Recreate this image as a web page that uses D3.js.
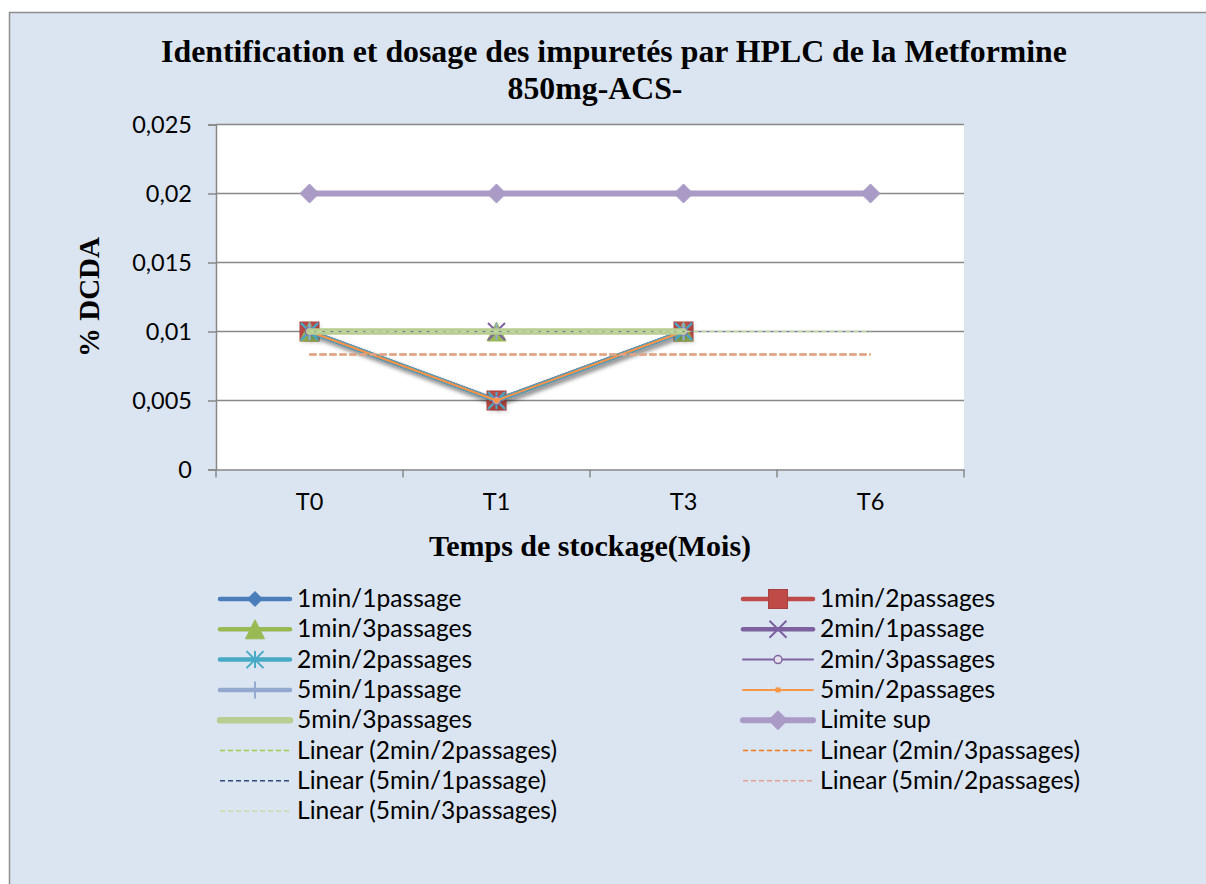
<!DOCTYPE html>
<html>
<head>
<meta charset="utf-8">
<script src="https://cdn.jsdelivr.net/npm/d3@7"></script>
<style>
  html, body { margin: 0; padding: 0; background: #ffffff; }
  svg { display: block; }
</style>
</head>
<body>
<svg id="chart" width="1206" height="884"></svg>
<script>
// Storage times (x categories)
const categories = ["T0", "T1", "T3", "T6"];
// Y axis ticks (% DCDA)
const yTicks = [0, 0.005, 0.01, 0.015, 0.02, 0.025];

// Series values (null = not measured)
const s1min1 = [0.01, 0.005, 0.01, null];
const s1min2 = [0.01, 0.005, 0.01, null];
const s1min3 = [0.01, 0.01, 0.01, null];
const s2min1 = [0.01, 0.01, 0.01, null];
const s2min2 = [0.01, 0.005, 0.01, null];
const s2min3 = [0.01, 0.005, 0.01, null];
const s5min1 = [0.01, 0.01, 0.01, null];
const s5min2 = [0.01, 0.005, 0.01, null];
const s5min3 = [0.01, 0.01, 0.01, null];
const limiteSup = [0.02, 0.02, 0.02, 0.02];

// Linear trend lines
const trend2min2 = [0.00833, 0.00833, 0.00833, 0.00833];
const trend2min3 = [0.00833, 0.00833, 0.00833, 0.00833];
const trend5min1 = [0.01, 0.01, 0.01, 0.01];
const trend5min2 = [0.00833, 0.00833, 0.00833, 0.00833];
const trend5min3 = [0.01, 0.01, 0.01, 0.01];

const series = [
  { name: "1min/1passage",  values: s1min1, color: "#4A7EBB", width: 4.5, marker: "diamond", msize: 15, mfill: "#4A7EBB", shadow: true },
  { name: "1min/2passages", values: s1min2, color: "#BE4B48", width: 4.5, marker: "square",  msize: 19, mfill: "#BE4B48", shadow: false },
  { name: "1min/3passages", values: s1min3, color: "#98B954", width: 4.5, marker: "triangle",msize: 19, mfill: "#98B954", shadow: false },
  { name: "2min/1passage",  values: s2min1, color: "#7D60A0", width: 4.5, marker: "x",       msize: 17, mfill: "none",    shadow: false },
  { name: "2min/2passages", values: s2min2, color: "#46AAC5", width: 4.5, marker: "star",    msize: 17, mfill: "none",    shadow: true },
  { name: "2min/3passages", values: s2min3, color: "#8064A2", width: 2,   marker: "circle",  msize: 8,  mfill: "#E6E0EC", shadow: false },
  { name: "5min/1passage",  values: s5min1, color: "#93A9D0", width: 4.5, marker: "plus",    msize: 17, mfill: "none",    shadow: false },
  { name: "5min/2passages", values: s5min2, color: "#F79646", width: 2,   marker: "dot",     msize: 5,  mfill: "#F79646", shadow: false },
  { name: "5min/3passages", values: s5min3, color: "#B7CD91", width: 6.5, marker: "none",    msize: 0,  mfill: "none",    shadow: false },
  { name: "Limite sup",     values: limiteSup, color: "#A99BC6", width: 6, marker: "diamond", msize: 19, mfill: "#A99BC6", shadow: false }
];

const trends = [
  { name: "Linear (2min/2passages)", values: trend2min2, color: "#9BCB4A", width: 1.6, dash: "7,3" },
  { name: "Linear (2min/3passages)", values: trend2min3, color: "#F07A1E", width: 1.6, dash: "7,3" },
  { name: "Linear (5min/1passage)",  values: trend5min1, color: "#6A7A92", width: 1.1, dash: "6,3" },
  { name: "Linear (5min/2passages)", values: trend5min2, color: "#E2A28E", width: 2.6, dash: "7,3" },
  { name: "Linear (5min/3passages)", values: trend5min3, color: "#C4D9A4", width: 1.6, dash: "5,3" }
];

const svg = d3.select("#chart");
const LABEL_FONT = "Lato, 'Open Sans', sans-serif";
const TITLE_FONT = "'Liberation Serif', 'Times New Roman', serif";

// Chart area
svg.append("rect")
  .attr("x", 9.5).attr("y", 12.5).attr("width", 1215).attr("height", 900)
  .attr("fill", "#DBE5F1").attr("stroke", "#8E8E8E").attr("stroke-width", 1.5);

const defs = svg.append("defs");
const f = defs.append("filter").attr("id", "shadow")
  .attr("x", "-10%").attr("y", "-10%").attr("width", "130%").attr("height", "150%");
f.append("feDropShadow").attr("dx", 2).attr("dy", 3).attr("stdDeviation", 2)
  .attr("flood-color", "#000").attr("flood-opacity", 0.3);

const plot = { left: 216, right: 964, top: 124.5, bottom: 469.5 };

const x = d3.scaleBand().domain(categories).range([plot.left, plot.right]).padding(0);
const cx = c => x(c) + x.bandwidth() / 2;
const y = d3.scaleLinear().domain([0, 0.025]).range([plot.bottom, plot.top]);

// Plot area
svg.append("rect")
  .attr("x", plot.left).attr("y", plot.top)
  .attr("width", plot.right - plot.left).attr("height", plot.bottom - plot.top)
  .attr("fill", "#ffffff");

// Horizontal gridlines
svg.append("g").selectAll("line").data(yTicks.filter(d => d > 0)).join("line")
  .attr("x1", plot.left).attr("x2", plot.right)
  .attr("y1", d => y(d)).attr("y2", d => y(d))
  .attr("stroke", "#888888").attr("stroke-width", 1.5);

// Y axis
const fr = d3.formatLocale({ decimal: ",", thousands: " ", grouping: [3], currency: ["", ""] });
const yAxis = d3.axisLeft(y).tickValues(yTicks).tickSize(8).tickPadding(16)
  .tickFormat(d => d === 0 ? "0" : fr.format("")(d));
const gy = svg.append("g").attr("transform", `translate(${plot.left},0)`).call(yAxis);
gy.select(".domain").attr("stroke", "#888888").attr("stroke-width", 1.5);
gy.selectAll(".tick line").attr("stroke", "#888888").attr("stroke-width", 1.5);
gy.selectAll(".tick text").attr("font-family", LABEL_FONT).attr("font-size", 23.5).attr("fill", "#000");

// X axis
const xAxis = d3.axisBottom(x).tickSize(0).tickPadding(24);
const gx = svg.append("g").attr("transform", `translate(0,${plot.bottom})`).call(xAxis);
gx.select(".domain").attr("stroke", "#888888").attr("stroke-width", 1.5);
gx.selectAll(".tick text").attr("font-family", LABEL_FONT).attr("font-size", 23.5).attr("fill", "#000");
// category boundary ticks
const bounds = categories.map(c => x(c)).concat([plot.right]);
gx.append("g").selectAll("line").data(bounds).join("line")
  .attr("x1", d => d).attr("x2", d => d).attr("y1", 0).attr("y2", 8)
  .attr("stroke", "#888888").attr("stroke-width", 1.5);

// Marker drawing
function drawMarker(g, type, px, py, s, color, fill) {
  const h = s / 2;
  if (type === "diamond") {
    g.append("path").attr("d", `M${px},${py - h}L${px + h},${py}L${px},${py + h}L${px - h},${py}Z`)
      .attr("fill", fill).attr("stroke", color).attr("stroke-width", 1);
  } else if (type === "square") {
    g.append("rect").attr("x", px - h).attr("y", py - h).attr("width", s).attr("height", s)
      .attr("fill", fill).attr("stroke", "#A8403D").attr("stroke-width", 1);
  } else if (type === "triangle") {
    g.append("path").attr("d", `M${px},${py - h}L${px + h},${py + h}L${px - h},${py + h}Z`)
      .attr("fill", fill).attr("stroke", color).attr("stroke-width", 1);
  } else if (type === "x") {
    g.append("path").attr("d", `M${px - h},${py - h}L${px + h},${py + h}M${px + h},${py - h}L${px - h},${py + h}`)
      .attr("stroke", color).attr("stroke-width", 2).attr("fill", "none");
  } else if (type === "star") {
    g.append("path").attr("d",
      `M${px - h},${py - h}L${px + h},${py + h}M${px + h},${py - h}L${px - h},${py + h}M${px},${py - h}L${px},${py + h}`)
      .attr("stroke", color).attr("stroke-width", 2).attr("fill", "none");
  } else if (type === "plus") {
    g.append("path").attr("d", `M${px},${py - h}L${px},${py + h}`)
      .attr("stroke", color).attr("stroke-width", 2).attr("fill", "none");
  } else if (type === "circle") {
    g.append("circle").attr("cx", px).attr("cy", py).attr("r", h)
      .attr("fill", fill).attr("stroke", color).attr("stroke-width", 1.5);
  } else if (type === "dot") {
    g.append("rect").attr("x", px - h).attr("y", py - h).attr("width", s).attr("height", s)
      .attr("fill", fill);
  }
}

const line = d3.line()
  .defined(d => d.v !== null)
  .x(d => cx(d.c)).y(d => y(d.v));

const gSeries = svg.append("g");
series.forEach(s => {
  const pts = categories.map((c, i) => ({ c, v: s.values[i] }));
  const g = gSeries.append("g");
  if (s.shadow) g.attr("filter", "url(#shadow)");
  g.append("path").datum(pts).attr("d", line)
    .attr("fill", "none").attr("stroke", s.color).attr("stroke-width", s.width)
    .attr("stroke-linejoin", "round").attr("stroke-linecap", "round");
  pts.filter(d => d.v !== null).forEach(d =>
    drawMarker(g, s.marker, cx(d.c), y(d.v), s.msize, s.color, s.mfill));
});

// Trend lines
const gTrend = svg.append("g");
trends.forEach(t => {
  const pts = categories.map((c, i) => ({ c, v: t.values[i] }));
  gTrend.append("path").datum(pts).attr("d", line)
    .attr("fill", "none").attr("stroke", t.color).attr("stroke-width", t.width)
    .attr("stroke-dasharray", t.dash);
});

// Title
const title = svg.append("text")
  .attr("text-anchor", "middle").attr("font-family", TITLE_FONT)
  .attr("font-weight", "bold").attr("font-size", 31.8).attr("fill", "#000");
title.append("tspan").attr("x", 614).attr("y", 62)
  .text("Identification et dosage des impuretés par HPLC de la Metformine");
title.append("tspan").attr("x", 595).attr("y", 99).text("850mg-ACS-");

// Axis titles
svg.append("text")
  .attr("transform", `translate(99,${y(0.0125)}) rotate(-90)`)
  .attr("text-anchor", "middle").attr("font-family", TITLE_FONT)
  .attr("font-weight", "bold").attr("font-size", 29).text("% DCDA");
svg.append("text")
  .attr("x", 590).attr("y", 556)
  .attr("text-anchor", "middle").attr("font-family", TITLE_FONT)
  .attr("font-weight", "bold").attr("font-size", 30).text("Temps de stockage(Mois)");

// Legend: two columns, series first then trend lines
const legendColors = { "Linear (5min/1passage)": "#2F4B7C", "Linear (5min/3passages)": "#CCDDB0" };
const legendItems = series.map(s => ({ ...s, dashed: false }))
  .concat(trends.map(t => ({ ...t, dashed: true })));
const legend = svg.append("g");
const colX = [220, 743];
const rowY0 = 599, rowH = 30.3;
legendItems.forEach((item, i) => {
  const col = i % 2, row = Math.floor(i / 2);
  const lx = colX[col], ly = rowY0 + row * rowH;
  const g = legend.append("g");
  if (item.dashed) {
    g.append("line").attr("x1", lx).attr("x2", lx + 70).attr("y1", ly).attr("y2", ly)
      .attr("stroke", legendColors[item.name] || item.color)
      .attr("stroke-width", 1.6).attr("stroke-dasharray", "5,3");
  } else {
    g.append("line").attr("x1", lx).attr("x2", lx + 70).attr("y1", ly).attr("y2", ly)
      .attr("stroke", item.color).attr("stroke-width", item.width)
      .attr("stroke-linecap", "round");
    drawMarker(g, item.marker, lx + 35, ly, item.msize, item.color, item.mfill);
  }
  g.append("text").attr("x", lx + 77).attr("y", ly + 8)
    .attr("font-family", LABEL_FONT).attr("font-size", 24.6).attr("fill", "#000")
    .text(item.name);
});
</script>
</body>
</html>
